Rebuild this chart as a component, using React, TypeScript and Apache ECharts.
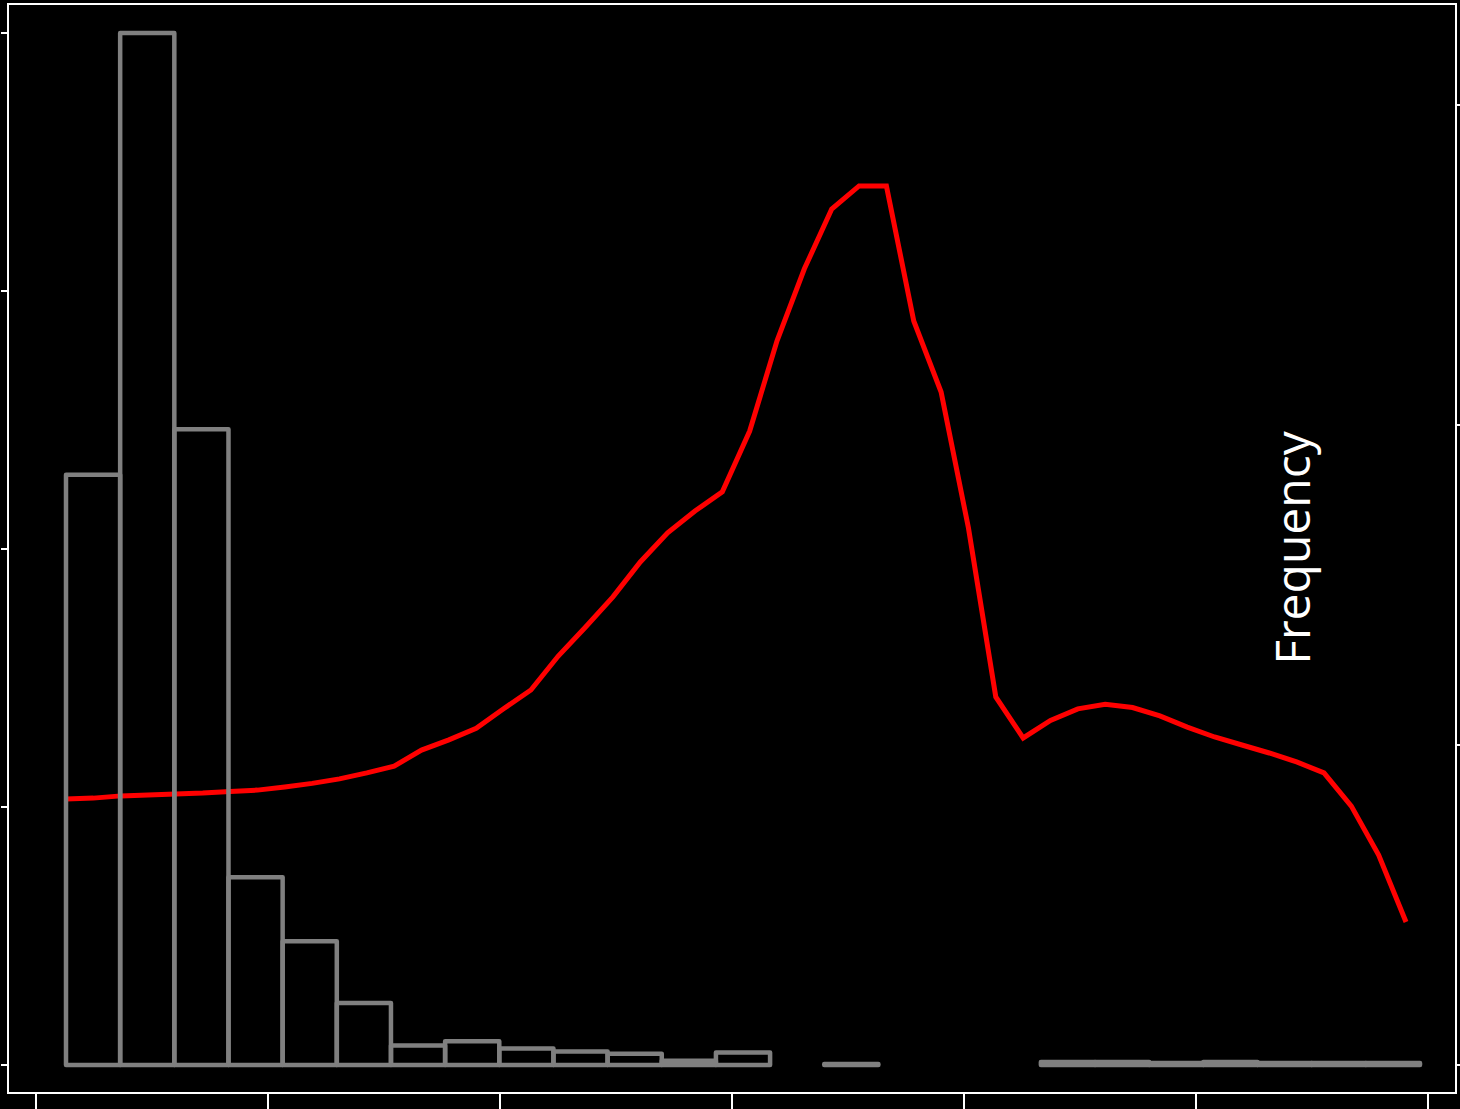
import React, { useEffect, useRef } from "react";
import * as echarts from "echarts";

// Histogram (left axis): 25 bins, counts
const histCounts = [572, 1000, 616, 182, 120, 60, 19, 23, 16, 13, 11, 4, 12, 0, 1, 0, 0, 0, 3, 3, 2, 3, 2, 2, 2];
const binStart = 0.12931; // in x-axis units
const binWidth = 0.23345;

// Red line (right axis), 50 points
const lineValues = [
  8.31, 8.34, 8.41, 8.44, 8.47, 8.5, 8.55, 8.59, 8.69, 8.8,
  8.94, 9.13, 9.34, 9.84, 10.16, 10.52, 11.13, 11.72, 12.78, 13.69,
  14.63, 15.72, 16.63, 17.31, 17.91, 19.81, 22.63, 24.88, 26.75, 27.47,
  27.47, 23.25, 21.03, 16.78, 11.5, 10.22, 10.77, 11.13, 11.27, 11.17,
  10.91, 10.56, 10.25, 10.0, 9.75, 9.47, 9.13, 8.09, 6.56, 4.47,
];
const lineStart = 0.12931;
const lineStep = 0.117876;

// Tick positions (no labels drawn)
const xTicks = [0, 1, 2, 3, 4, 5, 6];
const leftTicks = [0, 250, 500, 750, 1000];
const rightTicks = [0, 10, 20, 30];

const axisLabel = "Frequency";

export default function App() {
  const ref = useRef<HTMLDivElement>(null);

  useEffect(() => {
    if (!ref.current) return;
    const chart = echarts.init(ref.current, undefined, { renderer: "svg" });

    const histData = histCounts.map((c, i) => [binStart + i * binWidth, binStart + (i + 1) * binWidth, c]);
    const lineData = lineValues.map((v, i) => [lineStart + i * lineStep, v]);

    const tickStyle = { color: "#ffffff", width: 2 };

    chart.setOption({
      animation: false,
      backgroundColor: "#000000",
      grid: {
        left: 8,
        top: 4,
        right: 4,
        bottom: 16,
        show: true,
        borderColor: "#ffffff",
        borderWidth: 2,
        backgroundColor: "transparent",
      },
      xAxis: {
        type: "value",
        position: "bottom",
        min: -0.12069,
        max: 6.12069,
        axisLine: { show: false, onZero: false },
        splitLine: { show: false },
        axisLabel: { show: false },
        axisTick: { show: true, inside: false, length: 16, lineStyle: tickStyle, customValues: xTicks },
      },
      yAxis: [
        {
          type: "value",
          position: "left",
          min: -27.13,
          max: 1028.1,
          axisLine: { show: false, onZero: false },
          splitLine: { show: false },
          axisLabel: { show: false },
          axisTick: { show: true, inside: false, length: 7, lineStyle: tickStyle, customValues: leftTicks },
        },
        {
          type: "value",
          position: "right",
          min: -0.875,
          max: 33.156,
          axisLine: { show: false, onZero: false },
          splitLine: { show: false },
          axisLabel: { show: false },
          axisTick: { show: true, inside: false, length: 5, lineStyle: tickStyle, customValues: rightTicks },
        },
      ],
      series: [
        {
          type: "line",
          yAxisIndex: 1,
          data: lineData,
          symbol: "none",
          z: 2,
          lineStyle: { color: "#ff0000", width: 5, join: "miter" },
        },
        {
          type: "custom",
          yAxisIndex: 0,
          z: 3,
          data: histData,
          renderItem: (params: any, api: any) => {
            const x0 = api.value(0);
            const x1 = api.value(1);
            const c = api.value(2);
            if (!c) return null;
            const p0 = api.coord([x0, c]);
            const p1 = api.coord([x1, 0]);
            return {
              type: "rect",
              shape: { x: p0[0], y: p0[1], width: p1[0] - p0[0], height: p1[1] - p0[1] },
              style: {
                fill: "none",
                stroke: "#808080",
                lineWidth: 4.5,
                lineJoin: "round",
              },
            };
          },
        },
      ],
      graphic: [
        {
          type: "text",
          x: 1291,
          y: 548,
          rotation: Math.PI / 2,
          style: {
            text: axisLabel,
            fill: "#ffffff",
            font: '48px "Open Sans"',
            textAlign: "center",
            textVerticalAlign: "middle",
          },
          z: 10,
        },
      ],
    });

    return () => chart.dispose();
  }, []);

  return (
    <div
      ref={ref}
      style={{ position: "fixed", left: 0, top: 0, width: 1460, height: 1109, background: "#000" }}
    />
  );
}
